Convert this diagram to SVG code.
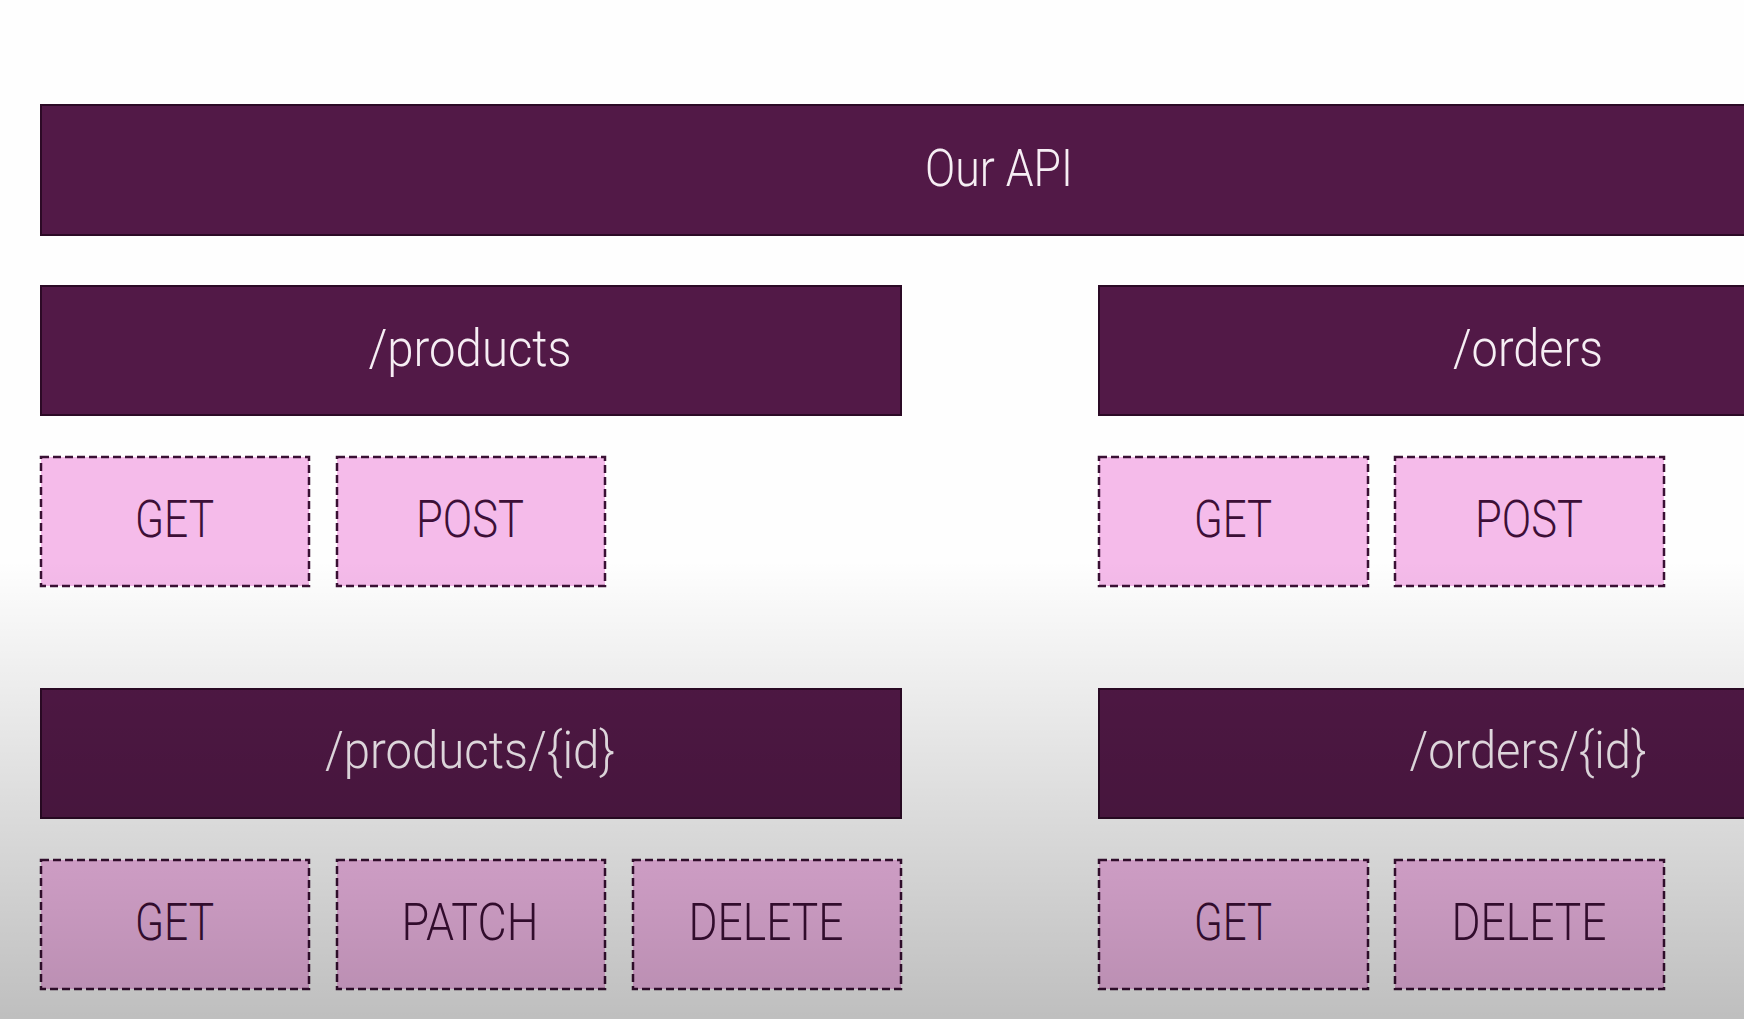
<svg xmlns="http://www.w3.org/2000/svg" width="1744" height="1019" viewBox="0 0 1744 1019">
  <defs>
    <linearGradient id="shade" x1="0" y1="0" x2="0" y2="1019" gradientUnits="userSpaceOnUse">
      <stop offset="0" stop-color="#000" stop-opacity="0"/>
      <stop offset="0.55" stop-color="#000" stop-opacity="0"/>
      <stop offset="1" stop-color="#000" stop-opacity="0.25"/>
    </linearGradient>
    <style>
      .bar { fill: #521947; stroke: #2c0a26; stroke-width: 2; }
      .method { fill: #f5bbea; stroke: #3a1034; stroke-width: 2.5; stroke-dasharray: 8 4; }
      .barText { font-family: Roboto, "Liberation Sans", sans-serif; font-weight: 300; font-size: 52px; fill: #f6eef4; text-anchor: middle; }
      .methodText { font-family: Roboto, "Liberation Sans", sans-serif; font-weight: 300; font-size: 52px; fill: #3d0f37; text-anchor: middle; }
    </style>
  </defs>
  <rect x="0" y="0" width="1744" height="1019" fill="#fefefe"/>

  <g id="api">
    <rect class="bar" x="41" y="105" width="1720" height="130"/>
    <text class="barText" x="999" y="186" textLength="148" lengthAdjust="spacingAndGlyphs">Our API</text>
  </g>

  <g id="products">
    <rect class="bar" x="41" y="286" width="860" height="129"/>
    <text class="barText" x="470" y="366" textLength="203" lengthAdjust="spacingAndGlyphs">/products</text>
  </g>
  <g id="products-get">
    <rect class="method" x="41" y="457" width="268" height="129"/>
    <text class="methodText" x="174.5" y="537" textLength="79" lengthAdjust="spacingAndGlyphs">GET</text>
  </g>
  <g id="products-post">
    <rect class="method" x="337" y="457" width="268" height="129"/>
    <text class="methodText" x="470" y="537" textLength="108" lengthAdjust="spacingAndGlyphs">POST</text>
  </g>

  <g id="orders">
    <rect class="bar" x="1099" y="286" width="700" height="129"/>
    <text class="barText" x="1528" y="366" textLength="150" lengthAdjust="spacingAndGlyphs">/orders</text>
  </g>
  <g id="orders-get">
    <rect class="method" x="1099" y="457" width="269" height="129"/>
    <text class="methodText" x="1233" y="537" textLength="78" lengthAdjust="spacingAndGlyphs">GET</text>
  </g>
  <g id="orders-post">
    <rect class="method" x="1395" y="457" width="269" height="129"/>
    <text class="methodText" x="1529" y="537" textLength="108" lengthAdjust="spacingAndGlyphs">POST</text>
  </g>

  <g id="product-id">
    <rect class="bar" x="41" y="689" width="860" height="129"/>
    <text class="barText" x="470" y="768" textLength="290" lengthAdjust="spacingAndGlyphs">/products/{id}</text>
  </g>
  <g id="product-id-get">
    <rect class="method" x="41" y="860" width="268" height="129"/>
    <text class="methodText" x="174.5" y="940" textLength="79" lengthAdjust="spacingAndGlyphs">GET</text>
  </g>
  <g id="product-id-patch">
    <rect class="method" x="337" y="860" width="268" height="129"/>
    <text class="methodText" x="470" y="940" textLength="137" lengthAdjust="spacingAndGlyphs">PATCH</text>
  </g>
  <g id="product-id-delete">
    <rect class="method" x="633" y="860" width="268" height="129"/>
    <text class="methodText" x="766" y="940" textLength="155" lengthAdjust="spacingAndGlyphs">DELETE</text>
  </g>

  <g id="order-id">
    <rect class="bar" x="1099" y="689" width="700" height="129"/>
    <text class="barText" x="1528" y="768" textLength="237" lengthAdjust="spacingAndGlyphs">/orders/{id}</text>
  </g>
  <g id="order-id-get">
    <rect class="method" x="1099" y="860" width="269" height="129"/>
    <text class="methodText" x="1233" y="940" textLength="78" lengthAdjust="spacingAndGlyphs">GET</text>
  </g>
  <g id="order-id-delete">
    <rect class="method" x="1395" y="860" width="269" height="129"/>
    <text class="methodText" x="1529" y="940" textLength="155" lengthAdjust="spacingAndGlyphs">DELETE</text>
  </g>

  <g id="connectors"></g>

  <rect x="0" y="0" width="1744" height="1019" fill="url(#shade)" pointer-events="none"/>
</svg>
